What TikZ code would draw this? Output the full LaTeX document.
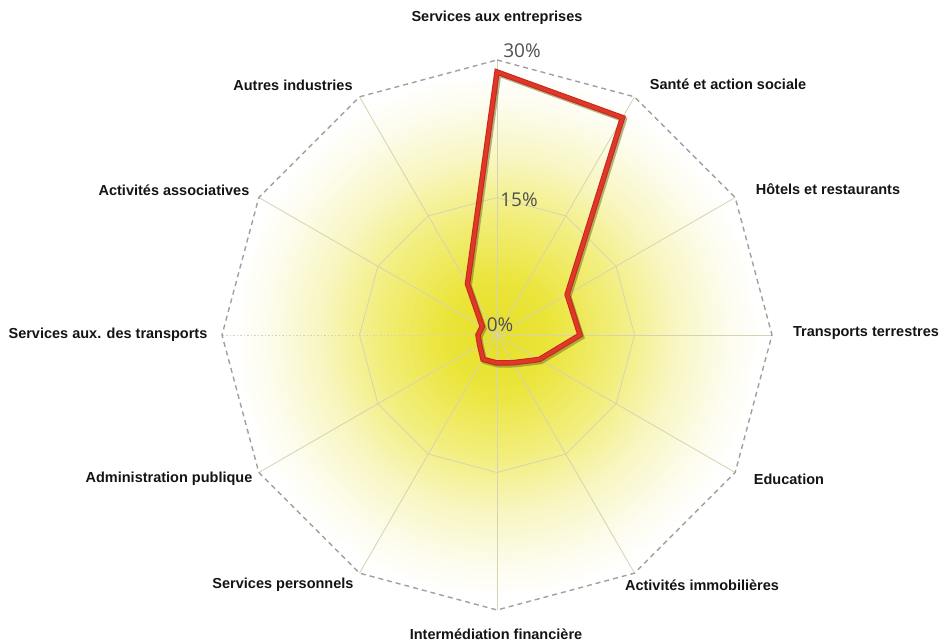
\documentclass[tikz,border=0pt]{standalone}
\usepackage{fontspec}
\setmainfont{Liberation Sans}
\newfontfamily\pctfont{Open Sans}
\usetikzlibrary{calc}
\definecolor{ycen}{RGB}{230,223,38}
\definecolor{ymid}{RGB}{235,229,60}
\definecolor{ylight}{RGB}{242,238,125}
\definecolor{ypale}{RGB}{248,246,192}
\definecolor{yfaint}{RGB}{253,252,238}
\definecolor{gridc}{RGB}{214,211,178}
\definecolor{dashc}{RGB}{160,160,160}
\definecolor{redline}{RGB}{200,38,28}
\definecolor{redhi}{RGB}{222,56,40}
\definecolor{shadowc}{RGB}{105,110,30}
\definecolor{pctc}{RGB}{80,80,80}
\definecolor{labc}{RGB}{20,20,20}
\pgfdeclareradialshading{yelglow}{\pgfpoint{0bp}{0bp}}{color(0bp)=(ycen); color(5bp)=(ymid); color(11bp)=(ylight); color(16bp)=(ypale); color(21bp)=(yfaint); color(24bp)=(white); color(50bp)=(white)}
\tikzset{
  gridline/.style={draw=gridc, line width=0.8pt},
  outerdash/.style={draw=dashc, line width=1.4pt, dash pattern=on 5pt off 4pt},
  catlabel/.style={font=\fontsize{14.5}{16}\selectfont\bfseries, text=labc, inner sep=0pt},
  pctlabel/.style={font=\pctfont\fontsize{19}{21}\selectfont, text=pctc, inner sep=0pt},
  redpoly/.style={draw=redline, line width=5.5pt, line join=miter},
  redhigh/.style={draw=redhi, line width=3.5pt, line join=miter},
  shadowpoly/.style={draw=shadowc, draw opacity=0.5, line width=5.5pt, line join=miter}
}
\begin{document}
\begin{tikzpicture}[x=1pt,y=1pt]
\useasboundingbox (0,0) rectangle (942,644);
\coordinate (c) at (497,309);
\foreach \k in {0,...,11} {
  \coordinate (v\k) at ($(c)+({90-30*\k}:275)$);
  \coordinate (h\k) at ($(c)+({90-30*\k}:137.5)$);
}
\foreach \k/\r in {0/263,1/251,2/81,3/83,4/49,5/32,6/28,7/28,8/20,9/19,10/17,11/59} {
  \coordinate (p\k) at ($(c)+({90-30*\k}:\r)$);
}
% background glow
\shade[shading=yelglow] (v0) -- (v1) -- (v2) -- (v3) -- (v4) -- (v5) -- (v6) -- (v7) -- (v8) -- (v9) -- (v10) -- (v11) -- cycle;
% grid
\foreach \k in {0,1,2,3,4,5,6,7,8,10,11} { \draw[gridline] (c) -- (v\k); }
\draw[gridline, dash pattern=on 1.5pt off 2pt] (c) -- (v9);
\draw[gridline] (h0) -- (h1) -- (h2) -- (h3) -- (h4) -- (h5) -- (h6) -- (h7) -- (h8) -- (h9) -- (h10) -- (h11) -- cycle;
\draw[outerdash] (v0) -- (v1) -- (v2) -- (v3) -- (v4) -- (v5) -- (v6) -- (v7) -- (v8) -- (v9) -- (v10) -- (v11) -- cycle;
% percentage labels
\node[pctlabel] (pc30) at (522,593) {30\%};
\node[pctlabel] (pc15) at (519,444) {15\%};
\node[pctlabel] (pc0) at (500,319) {0\%};
% data polygon
\draw[shadowpoly, transform canvas={shift={(1.6pt,-2pt)}}] (p0) -- (p1) -- (p2) -- (p3) -- (p4) -- (p5) -- (p6) -- (p7) -- (p8) -- (p9) -- (p10) -- (p11) -- cycle;
\draw[redpoly] (p0) -- (p1) -- (p2) -- (p3) -- (p4) -- (p5) -- (p6) -- (p7) -- (p8) -- (p9) -- (p10) -- (p11) -- cycle;
\draw[redhigh] (p0) -- (p1) -- (p2) -- (p3) -- (p4) -- (p5) -- (p6) -- (p7) -- (p8) -- (p9) -- (p10) -- (p11) -- cycle;
% category labels
\node[catlabel] (lab0) at (497,626) {Services aux entreprises};
\node[catlabel] (lab1) at (728,560) {Santé et action sociale};
\node[catlabel] (lab2) at (828,455) {Hôtels et restaurants};
\node[catlabel] (lab3) at (866,311) {Transports terrestres};
\node[catlabel] (lab4) at (789,165) {Education};
\node[catlabel] (lab5) at (702,59) {Activités immobilières};
\node[catlabel] (lab6) at (496,10) {Intermédiation financière};
\node[catlabel] (lab7) at (283,59) {Services personnels};
\node[catlabel] (lab8) at (169,165) {Administration publique};
\node[catlabel] (lab9) at (108,309) {Services aux. des transports};
\node[catlabel] (lab10) at (174,454) {Activités associatives};
\node[catlabel] (lab11) at (293,559) {Autres industries};
\end{tikzpicture}
\end{document}
